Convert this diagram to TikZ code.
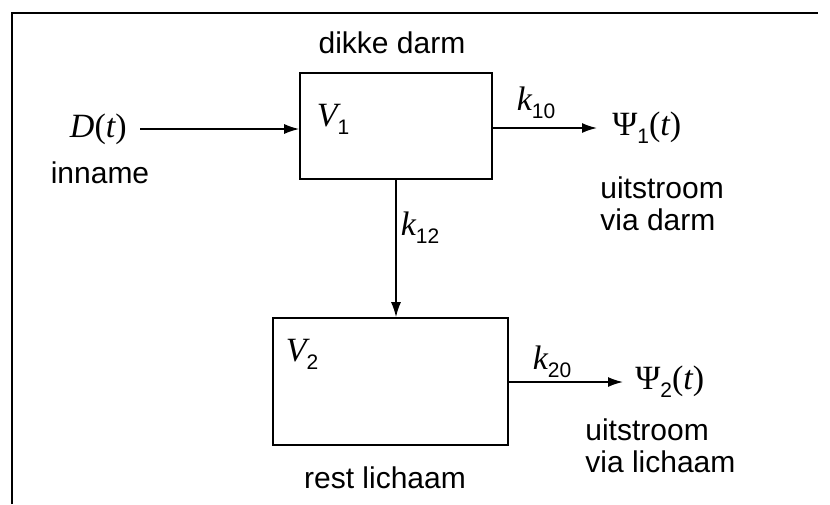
\documentclass[tikz,border=0pt]{standalone}
\usepackage{fontspec}
\setmainfont{Liberation Sans}
\newfontfamily\tms{Liberation Serif}
\usetikzlibrary{arrows.meta}
\newcommand\sbs[1]{\raisebox{-0.45ex}{\fontsize{10.5}{11}\selectfont\rmfamily #1}}
\newcommand\mi[1]{{\tms\itshape #1}}
\newcommand\mr[1]{{\tms #1}}
\tikzset{
  lbl/.style={font=\fontsize{15}{16}\selectfont, inner sep=0pt},
  mth/.style={font=\fontsize{17}{18}\selectfont, inner sep=0pt},
  cbox/.style={draw, line width=0.8pt, inner sep=0pt},
  arr/.style={line width=0.8pt, -{Latex[length=7.5pt,width=5pt]}},
  frm/.style={line width=0.9pt}
}
\begin{document}
\begin{tikzpicture}[x=0.5pt,y=-0.5pt]
\useasboundingbox (0,0) rectangle (830,504);
% frame (left and top edges)
\coordinate (fa) at (12,504);
\coordinate (fb) at (12,13);
\coordinate (fc) at (818,13);
\draw[frm] (fa) -- (fb) -- (fc);
% boxes
\node[cbox, minimum width=96pt, minimum height=53pt] (v1) at (396,126) {};
\node[cbox, minimum width=117.5pt, minimum height=63.5pt] (v2) at (390.5,381.5) {};
% labels
\node[lbl] (dd) at (392,43) {dikke darm};
\node[mth] (V1) at (333,119) {\mi{V}\sbs{1}};
\node[mth] (V2) at (302,354) {\mi{V}\sbs{2}};
\node[mth, anchor=east] (Dt) at (127,129) {\mi{D}\mr{(}\mi{t}\mr{)}};
\node[lbl] (inn) at (100,173) {inname};
\node[mth] (k10) at (536,103) {\mi{k}\sbs{10}};
\node[mth] (k12) at (420,228) {\mi{k}\sbs{12}};
\node[mth] (k20) at (552,362) {\mi{k}\sbs{20}};
\node[mth, anchor=west] (psi1) at (612,128) {\mr{Ψ}\sbs{1}\mr{(}\mi{t}\mr{)}};
\node[mth, anchor=west] (psi2) at (635,382) {\mr{Ψ}\sbs{2}\mr{(}\mi{t}\mr{)}};
\node[lbl, align=left, anchor=north west] (u1) at (600,176) {uitstroom\\via darm};
\node[lbl, align=left, anchor=north west] (u2) at (585,418) {uitstroom\\via lichaam};
\node[lbl] (rl) at (385,478) {rest lichaam};
% connectors
\draw[arr] ([xshift=6.5pt]Dt.east) -- (Dt.east -| v1.west);
\draw[arr] (v1.east |- psi1.west) -- ([xshift=-7.5pt]psi1.west);
\draw[arr] (v1.south) -- (v1.south |- v2.north);
\draw[arr] (v2.east |- psi2.west) -- ([xshift=-6pt]psi2.west);
\end{tikzpicture}
\end{document}
